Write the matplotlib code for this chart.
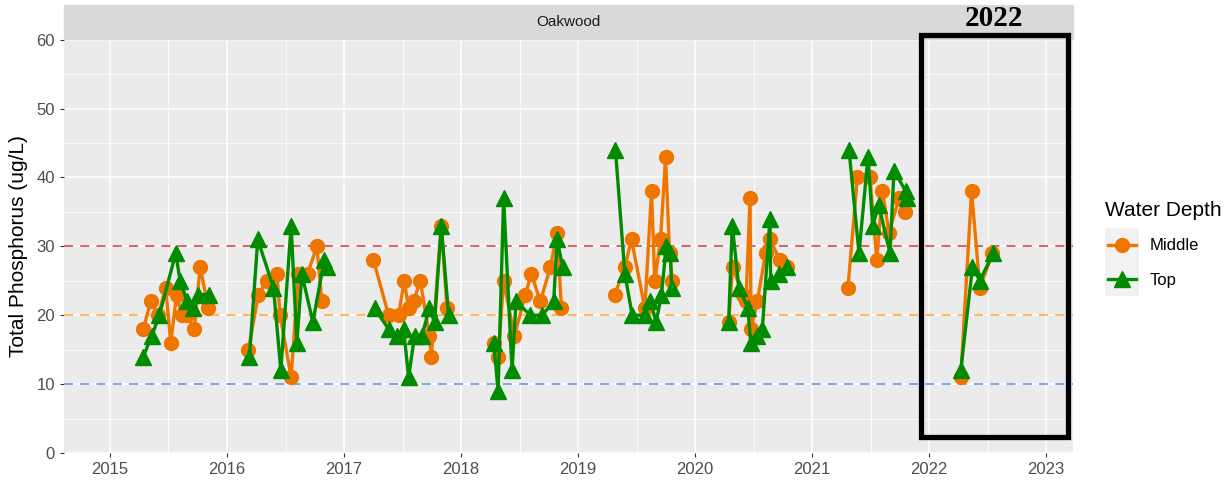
import matplotlib
matplotlib.use("Agg")
import matplotlib.pyplot as plt
from matplotlib.patches import Rectangle

# sampling time as decimal year, total phosphorus (ug/L), one list per season
middle_years = [
    [2015.285, 2015.348, 2015.413, 2015.476, 2015.519, 2015.570, 2015.613, 2015.656, 2015.720, 2015.770, 2015.841],
    [2016.183, 2016.269, 2016.340, 2016.426, 2016.454, 2016.548, 2016.611, 2016.688, 2016.768, 2016.811],
    [2017.252, 2017.381, 2017.466, 2017.515, 2017.552, 2017.594, 2017.652, 2017.729, 2017.746, 2017.831, 2017.880],
    [2018.279, 2018.317, 2018.364, 2018.456, 2018.550, 2018.601, 2018.678, 2018.764, 2018.821, 2018.858],
    [2019.314, 2019.400, 2019.457, 2019.571, 2019.628, 2019.656, 2019.705, 2019.748, 2019.782, 2019.805],
    [2020.287, 2020.321, 2020.407, 2020.435, 2020.470, 2020.479, 2020.532, 2020.603, 2020.640, 2020.725, 2020.783],
    [2021.307, 2021.387, 2021.495, 2021.553, 2021.601, 2021.658, 2021.743, 2021.792],
    [2022.271, 2022.363, 2022.434, 2022.542],
]
middle_tp = [
    [18, 22, 20, 24, 16, 23, 20, 20, 18, 27, 21],
    [15, 23, 25, 26, 20, 11, 26, 26, 30, 22],
    [28, 20, 20, 25, 21, 22, 25, 17, 14, 33, 21],
    [16, 14, 25, 17, 23, 26, 22, 27, 32, 21],
    [23, 27, 31, 21, 38, 25, 31, 43, 29, 25],
    [19, 27, 23, 22, 37, 18, 22, 29, 31, 28, 27],
    [24, 40, 40, 28, 38, 32, 37, 35],
    [11, 38, 24, 29],
]

top_years = [
    [2015.285, 2015.357, 2015.422, 2015.562, 2015.599, 2015.659, 2015.710, 2015.753, 2015.847],
    [2016.192, 2016.263, 2016.397, 2016.460, 2016.548, 2016.597, 2016.640, 2016.734, 2016.831, 2016.854],
    [2017.261, 2017.381, 2017.453, 2017.509, 2017.552, 2017.603, 2017.666, 2017.729, 2017.774, 2017.831, 2017.894],
    [2018.279, 2018.317, 2018.364, 2018.436, 2018.470, 2018.593, 2018.693, 2018.792, 2018.821, 2018.869],
    [2019.320, 2019.400, 2019.463, 2019.571, 2019.619, 2019.668, 2019.713, 2019.754, 2019.790, 2019.800],
    [2020.287, 2020.318, 2020.375, 2020.452, 2020.475, 2020.526, 2020.575, 2020.640, 2020.646, 2020.717, 2020.783],
    [2021.316, 2021.401, 2021.478, 2021.518, 2021.570, 2021.666, 2021.700, 2021.801, 2021.809],
    [2022.271, 2022.371, 2022.434, 2022.547],
]
top_tp = [
    [14, 17, 20, 29, 25, 22, 21, 23, 23],
    [14, 31, 24, 12, 33, 16, 26, 19, 28, 27],
    [21, 18, 17, 18, 11, 17, 17, 21, 19, 33, 20],
    [16, 9, 37, 12, 22, 20, 20, 22, 31, 27],
    [44, 26, 20, 20, 22, 19, 23, 30, 29, 24],
    [19, 33, 24, 21, 16, 17, 18, 34, 25, 26, 27],
    [44, 29, 43, 33, 36, 29, 41, 38, 37],
    [12, 27, 25, 29],
]

year_ticks = [2015, 2016, 2017, 2018, 2019, 2020, 2021, 2022, 2023]
tp_ticks = [0, 10, 20, 30, 40, 50, 60]
thresholds = [30, 20, 10]
threshold_colors = ["#CD5C5C", "#FFB347", "#6CA6E0"]

orange = "#EE7600"
green = "#008B00"
W, H = 1228, 482

plt.rcParams["font.family"] = ["Liberation Sans", "DejaVu Sans"]
fig = plt.figure(figsize=(W / 100, H / 100), dpi=100)


def fx(px):
    return px / W


def fy(px):
    return 1 - px / H


pl, pr, pt, pb = 64, 1073, 39, 453
ax = fig.add_axes([fx(pl), fy(pb), fx(pr - pl), fy(pt) - fy(pb)])
ax.set_facecolor("#EBEBEB")
for s in ax.spines.values():
    s.set_visible(False)

ax.set_xticks(year_ticks)
ax.set_xticks([y + 0.5 for y in year_ticks[:-1]], minor=True)
ax.set_yticks(tp_ticks)
ax.set_yticks([5, 15, 25, 35, 45, 55], minor=True)
ax.set_xlim(2014.607, 2023.23)
ax.set_ylim(0, 60.1)
ax.grid(which="major", color="white", lw=1.1)
ax.grid(which="minor", color="white", lw=0.55)
ax.set_axisbelow(True)
ax.tick_params(which="major", length=3, color="#333333", labelsize=12,
               labelcolor="#4D4D4D", width=0.8)
ax.tick_params(which="minor", length=0)
ax.set_ylabel("Total Phosphorus (ug/L)", fontsize=15, color="black", labelpad=6)

for h, c in zip(thresholds, threshold_colors):
    ax.axhline(h, color=c, lw=1.3, dashes=(5, 4), zorder=1.5)

for xs, ys in zip(middle_years, middle_tp):
    ax.plot(xs, ys, color=orange, lw=2.4, marker="o", ms=10, zorder=3)
for xs, ys in zip(top_years, top_tp):
    ax.plot(xs, ys, color=green, lw=2.4, marker="^", ms=11.5, zorder=4)

# facet strip
fig.patches.append(Rectangle((fx(pl), fy(pt)), fx(pr - pl), fy(5) - fy(pt),
                             transform=fig.transFigure, color="#D9D9D9", zorder=0))
fig.text(fx((pl + pr) / 2), fy(22), "Oakwood", ha="center", va="center",
         fontsize=11, color="#1A1A1A")

# legend
fig.text(fx(1105), fy(210), "Water Depth", ha="left", va="center", fontsize=15)
lax = fig.add_axes([fx(1105), fy(296), fx(34), fy(228) - fy(296)])
lax.set_facecolor("#F2F2F2")
lax.set_xlim(0, 1)
lax.set_ylim(0, 2)
lax.set_xticks([])
lax.set_yticks([])
for s in lax.spines.values():
    s.set_visible(False)
lax.plot([0.08, 0.92], [1.5, 1.5], color=orange, lw=2.4)
lax.plot([0.5], [1.5], color=orange, marker="o", ms=10)
lax.plot([0.08, 0.92], [0.5, 0.5], color=green, lw=2.4)
lax.plot([0.5], [0.5], color=green, marker="^", ms=11.5)
fig.text(fx(1150), fy(246), "Middle", ha="left", va="center", fontsize=12)
fig.text(fx(1150), fy(280), "Top", ha="left", va="center", fontsize=12)

# highlight box for 2022
fig.add_artist(Rectangle((fx(921), fy(437)), fx(1068 - 921), fy(35) - fy(437),
                         transform=fig.transFigure, fill=False, ec="black", lw=3.8,
                         zorder=10))
fig.text(fx(994), fy(19), "2022", ha="center", va="center", fontsize=21,
         fontweight="bold", family="Liberation Serif")

fig.savefig("out.png", dpi=100)
